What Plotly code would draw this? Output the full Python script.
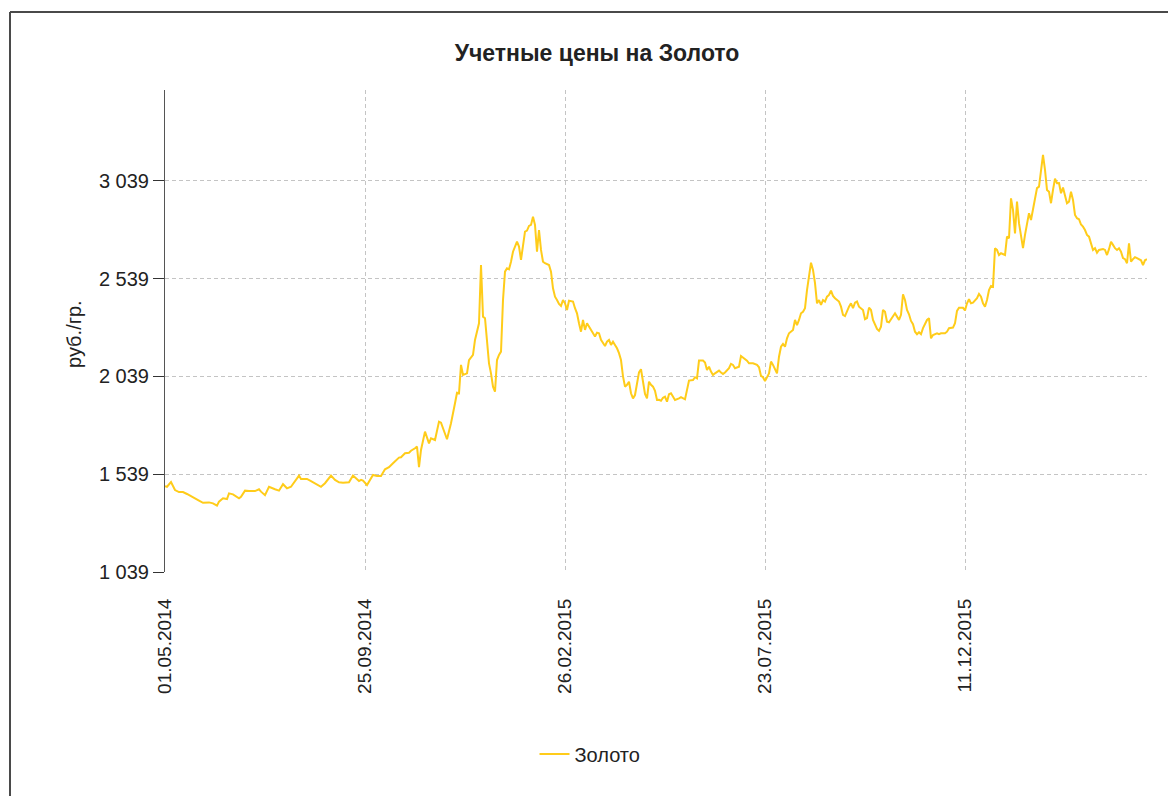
import plotly.graph_objects as go

# trading-day index (position on the category axis) and gold price, rub/g
day_index = [0, 1, 3, 5, 7, 9, 11, 14, 17, 19, 22, 24, 26, 27, 29, 31, 32, 34, 37, 38,
             40, 42, 45, 47, 48, 50, 52, 55, 57, 59, 61, 63, 65, 67, 68, 71, 73, 76, 78, 80,
             83, 85, 87, 89, 92, 94, 97, 98, 99, 101, 103, 104, 106, 108, 110, 112, 114, 117, 118, 120,
             122, 123, 125, 126, 127, 128, 130, 132, 133, 135, 137, 138, 141, 143, 145, 146, 147, 148, 149, 151,
             152, 154, 155, 156, 157, 158, 159, 160, 161, 162, 163, 164, 165, 166, 167, 168, 169, 170, 171, 172,
             173, 174, 176, 177, 178, 179, 180, 181, 182, 183, 184, 185, 186, 187, 188, 189, 190, 192, 193, 194,
             195, 196, 197, 198, 199, 200, 201, 202, 204, 205, 206, 207, 208, 209, 210, 211, 212, 214, 215, 216,
             217, 218, 220, 221, 222, 223, 224, 225, 226, 227, 228, 229, 230, 231, 232, 233, 234, 235, 236, 237,
             238, 239, 240, 241, 242, 243, 244, 245, 246, 247, 248, 249, 250, 251, 252, 253, 254, 255, 257, 258,
             260, 261, 262, 264, 265, 266, 267, 269, 270, 271, 272, 273, 274, 275, 277, 278, 279, 280, 282, 283,
             284, 285, 287, 288, 290, 291, 292, 294, 296, 297, 298, 299, 300, 301, 302, 303, 304, 306, 307, 308,
             309, 310, 311, 312, 314, 315, 316, 317, 318, 319, 320, 321, 322, 323, 324, 325, 326, 327, 328, 329,
             330, 331, 332, 333, 334, 335, 337, 338, 339, 340, 342, 343, 344, 345, 346, 347, 349, 350, 351, 352,
             353, 354, 356, 357, 358, 359, 360, 361, 362, 364, 365, 366, 367, 368, 369, 370, 371, 372, 373, 374,
             375, 376, 377, 378, 379, 381, 382, 383, 384, 386, 387, 388, 390, 391, 392, 394, 395, 396, 397, 399,
             400, 401, 402, 403, 404, 406, 407, 408, 409, 410, 411, 412, 413, 414, 415, 416, 417, 418, 420, 421,
             422, 423, 424, 425, 426, 427, 428, 429, 430, 431, 432, 433, 434, 435, 436, 437, 438, 439, 440, 441,
             442, 443, 444, 445, 446, 447, 448, 449, 450, 451, 452, 453, 454, 455, 456, 457, 458, 459, 460, 461,
             462, 463, 464, 465, 466, 467, 469, 470, 471, 472, 473, 474, 475, 476, 477, 478, 479, 480, 481, 482,
             483, 484, 485, 486, 487, 488, 489, 490, 491]

gold_price = [1478, 1475, 1499, 1458, 1448, 1448, 1438, 1419, 1404, 1393, 1395, 1390, 1378, 1399, 1416, 1412, 1441, 1436, 1416, 1424,
              1455, 1453, 1453, 1462, 1450, 1432, 1475, 1462, 1455, 1488, 1467, 1475, 1501, 1532, 1515, 1515, 1504, 1488, 1475, 1493,
              1532, 1510, 1498, 1496, 1498, 1532, 1504, 1510, 1506, 1484, 1523, 1535, 1530, 1530, 1564, 1575, 1595, 1624, 1626, 1646,
              1649, 1659, 1672, 1680, 1575, 1663, 1757, 1697, 1723, 1714, 1808, 1803, 1718, 1800, 1902, 1956, 1953, 2098, 2047, 2055,
              2123, 2149, 2226, 2268, 2311, 2609, 2345, 2337, 2226, 2106, 2055, 1987, 1961, 2123, 2149, 2166, 2430, 2575, 2592, 2587,
              2626, 2677, 2728, 2703, 2635, 2720, 2780, 2785, 2809, 2814, 2856, 2814, 2677, 2788, 2686, 2626, 2618, 2609, 2575, 2490,
              2447, 2430, 2410, 2400, 2430, 2413, 2379, 2426, 2422, 2388, 2362, 2311, 2268, 2328, 2277, 2311, 2294, 2260, 2243, 2263,
              2260, 2226, 2195, 2217, 2226, 2200, 2217, 2200, 2183, 2158, 2123, 2039, 1987, 1996, 2012, 1953, 1927, 1944, 2004, 2060,
              2076, 2004, 1950, 1927, 2012, 1996, 1987, 1966, 1919, 1920, 1915, 1930, 1936, 1910, 1948, 1953, 1933, 1919, 1927, 1933,
              1922, 1970, 2018, 2021, 2035, 2029, 2120, 2120, 2110, 2072, 2089, 2064, 2047, 2055, 2069, 2059, 2052, 2059, 2081, 2103,
              2098, 2081, 2089, 2144, 2127, 2120, 2106, 2106, 2098, 2086, 2042, 2035, 2015, 2039, 2055, 2115, 2098, 2055, 2140, 2191,
              2205, 2191, 2234, 2260, 2277, 2328, 2302, 2328, 2362, 2370, 2388, 2481, 2549, 2621, 2584, 2516, 2413, 2430, 2405, 2430,
              2422, 2447, 2456, 2478, 2451, 2439, 2422, 2396, 2354, 2348, 2396, 2413, 2388, 2416, 2422, 2396, 2379, 2332, 2337, 2391,
              2379, 2328, 2282, 2272, 2294, 2379, 2370, 2319, 2316, 2345, 2362, 2345, 2328, 2354, 2459, 2430, 2379, 2357, 2323, 2306,
              2268, 2255, 2265, 2255, 2286, 2328, 2337, 2234, 2251, 2260, 2255, 2260, 2260, 2268, 2286, 2289, 2311, 2374, 2390, 2390,
              2377, 2413, 2434, 2413, 2416, 2439, 2461, 2447, 2413, 2396, 2430, 2481, 2502, 2498, 2695, 2686, 2660, 2669, 2660, 2754,
              2746, 2950, 2891, 2771, 2933, 2823, 2754, 2695, 2763, 2831, 2874, 2839, 2891, 2950, 3002, 3010, 3087, 3172, 3095, 2993,
              2984, 2925, 2993, 3050, 3027, 3028, 2976, 3005, 2965, 2925, 2933, 2984, 2942, 2865, 2848, 2843, 2816, 2805, 2788, 2763,
              2754, 2720, 2686, 2695, 2672, 2686, 2691, 2686, 2660, 2690, 2728, 2712, 2695, 2686, 2695, 2677, 2644, 2639, 2618, 2720,
              2626, 2639, 2649, 2644, 2639, 2633, 2609, 2633, 2639]

x_tick_positions = [0, 100, 200, 300, 400]
x_tick_labels = ["01.05.2014", "25.09.2014", "26.02.2015", "23.07.2015", "11.12.2015"]
y_tick_values = [1039, 1539, 2039, 2539, 3039]
y_tick_labels = ["1 039", "1 539", "2 039", "2 539", "3 039"]

FONT = "Liberation Sans, Arial, sans-serif"
GRID = "#c4c4c4"
TXT = "#222222"

# page body has an 8px margin: the figure is offset by (8, 8) in the window
OFF = 8
W, H = 1168, 788
PL, PR, PT, PB = 165, 1147, 90, 572          # plot box in window pixels
pw, ph = PR - PL, PB - PT


def px_x(v):
    return (v - PL) / pw


def px_y(v):
    return (PB - v) / ph


fig = go.Figure()
fig.add_trace(go.Scatter(
    x=day_index, y=gold_price, mode="lines", name="Золото",
    line=dict(color="#FFCC1A", width=2),
))

fig.update_layout(
    width=W, height=H,
    margin=dict(l=PL - OFF, r=OFF + W - PR, t=PT - OFF, b=OFF + H - PB, pad=0),
    paper_bgcolor="white", plot_bgcolor="white",
    font=dict(family=FONT, size=19, color=TXT),
    title=dict(text="<b>Учетные цены на Золото</b>", xref="container", x=(597 - OFF) / W,
               y=1 - (53 - OFF) / H, yanchor="middle", xanchor="center",
               font=dict(family=FONT, size=23, color=TXT)),
    showlegend=True,
    legend=dict(orientation="h", x=px_x(590), y=px_y(754), xanchor="center", yanchor="middle",
                font=dict(family=FONT, size=20, color=TXT)),
    xaxis=dict(range=[0, 491], tickvals=x_tick_positions, ticktext=x_tick_labels,
               tickangle=-90, showgrid=True, gridcolor=GRID, griddash="4px,3px",
               gridwidth=1, showline=False, zeroline=False, ticks="",
               ticklabelstandoff=22,
               tickfont=dict(family=FONT, size=19, color=TXT)),
    yaxis=dict(range=[1039, 3504], tickvals=y_tick_values, ticktext=y_tick_labels,
               showgrid=True, gridcolor=GRID, griddash="4px,3px", gridwidth=1,
               showline=True, linecolor="#555555", linewidth=1, zeroline=False,
               ticks="outside", ticklen=11, tickcolor="#333333",
               tickfont=dict(family=FONT, size=20, color=TXT)),
    annotations=[dict(text="руб./гр.", textangle=-90, xref="paper", yref="paper",
                      x=px_x(74), y=px_y(334), xanchor="center", yanchor="middle",
                      showarrow=False, font=dict(family=FONT, size=20, color=TXT))],
    shapes=[
        dict(type="line", xref="paper", yref="paper", x0=px_x(10), x1=px_x(1190),
             y0=px_y(12), y1=px_y(12), line=dict(color="#4a4a4a", width=2)),
        dict(type="line", xref="paper", yref="paper", x0=px_x(10), x1=px_x(10),
             y0=px_y(12), y1=px_y(810), line=dict(color="#4a4a4a", width=2)),
    ],
)

fig.write_html("out.html")
